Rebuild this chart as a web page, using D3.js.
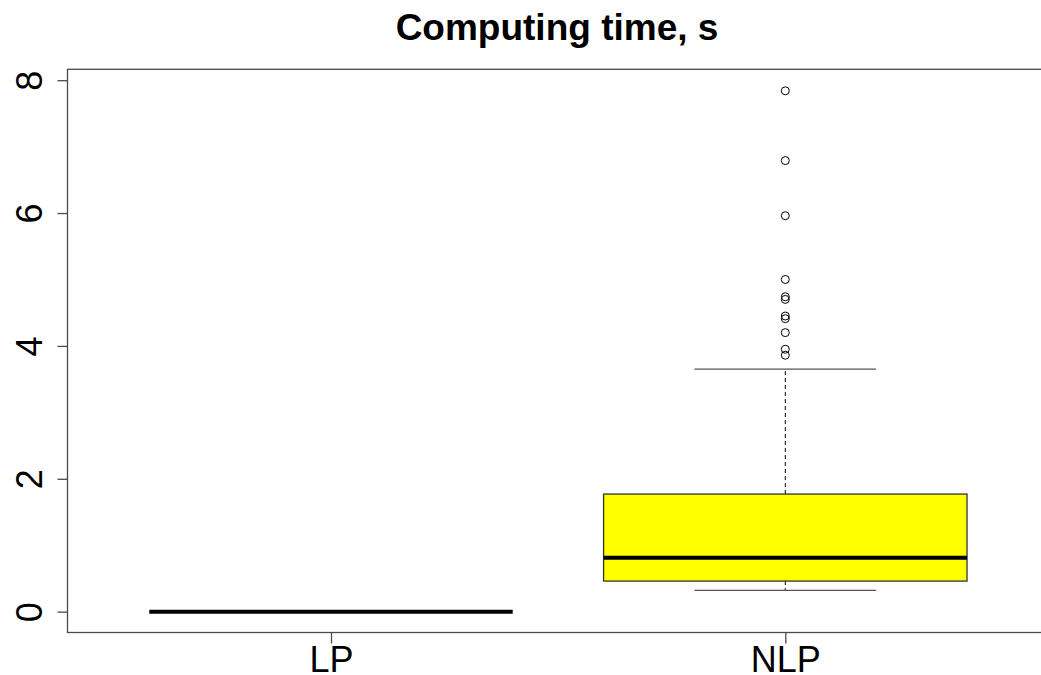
<!DOCTYPE html>
<html>
<head>
<meta charset="utf-8">
<script src="https://cdn.jsdelivr.net/npm/d3@7"></script>
<style>
  html, body { margin: 0; padding: 0; background: #fff; }
  svg { display: block; font-family: "Liberation Sans", Arial, sans-serif; }
</style>
</head>
<body>
<svg id="chart" width="1041" height="675"></svg>
<script>
// ---- data ----
const categories = ["LP", "NLP"];
const whiskerLow = [0, 0.32];
const q1 = [0, 0.46];
const median = [0, 0.81];
const q3 = [0, 1.77];
const whiskerHigh = [0, 3.65];
const outliersNLP = [3.86, 3.95, 4.20, 4.41, 4.45, 4.70, 4.74, 5.00, 5.96, 6.79, 7.84];
const yTicks = [0, 2, 4, 6, 8];
const title = "Computing time, s";

// ---- layout ----
const svg = d3.select("#chart");
const plotLeft = 67.5, plotRight = 1048.8, plotTop = 69.3, plotBottom = 632.5;

const x = d3.scaleLinear().domain([0.42, 2.58]).range([plotLeft, plotRight]);
const y = d3.scaleLinear().domain([-0.314, 8.164]).range([plotBottom, plotTop]);
const boxHalf = 0.4, capHalf = 0.2;
const axisColor = "#4a4a4a";

// title
svg.append("text")
  .attr("x", 557).attr("y", 39.5)
  .attr("text-anchor", "middle")
  .attr("font-size", 37).attr("font-weight", "bold")
  .attr("fill", "#000")
  .text(title);

// plot frame
svg.append("rect")
  .attr("x", plotLeft).attr("y", plotTop)
  .attr("width", plotRight - plotLeft).attr("height", plotBottom - plotTop)
  .attr("fill", "none").attr("stroke", axisColor).attr("stroke-width", 1.3);

// y axis
const yAxis = d3.axisLeft(y).tickValues(yTicks).tickSize(10).tickPadding(0).tickFormat(d3.format("d"));
const gy = svg.append("g").attr("transform", `translate(${plotLeft},0)`).call(yAxis);
gy.select(".domain").remove();
gy.selectAll(".tick line").attr("stroke", axisColor).attr("stroke-width", 1.3);
gy.selectAll(".tick text")
  .attr("x", null).attr("dy", null)
  .attr("transform", "translate(-25.5,0) rotate(-90)")
  .attr("text-anchor", "middle")
  .attr("font-size", 36)
  .attr("font-family", "Liberation Sans, Arial, sans-serif")
  .attr("fill", "#000");

// x axis
const xAxis = d3.axisBottom(x).tickValues([1, 2]).tickSize(11).tickPadding(0)
  .tickFormat((d) => categories[d - 1]);
const gx = svg.append("g").attr("transform", `translate(0,${plotBottom})`).call(xAxis);
gx.select(".domain").remove();
gx.selectAll(".tick line").attr("stroke", axisColor).attr("stroke-width", 1.3);
gx.selectAll(".tick text")
  .attr("y", 39.5).attr("dy", null)
  .attr("font-size", 36)
  .attr("font-family", "Liberation Sans, Arial, sans-serif")
  .attr("fill", "#000");

// boxes
categories.forEach((c, i) => {
  const pos = i + 1;
  const g = svg.append("g");
  const degenerate = q1[i] === q3[i] && whiskerLow[i] === whiskerHigh[i];
  if (!degenerate) {
    g.append("line")
      .attr("x1", x(pos)).attr("x2", x(pos))
      .attr("y1", y(q3[i])).attr("y2", y(whiskerHigh[i]))
      .attr("stroke", "#000").attr("stroke-width", 1).attr("stroke-dasharray", "4,3");
    g.append("line")
      .attr("x1", x(pos)).attr("x2", x(pos))
      .attr("y1", y(q1[i])).attr("y2", y(whiskerLow[i]))
      .attr("stroke", "#000").attr("stroke-width", 1).attr("stroke-dasharray", "4,3");
    [whiskerHigh[i], whiskerLow[i]].forEach((v) => {
      g.append("line")
        .attr("x1", x(pos - capHalf)).attr("x2", x(pos + capHalf))
        .attr("y1", y(v)).attr("y2", y(v))
        .attr("stroke", "#555").attr("stroke-width", 1.3);
    });
    g.append("rect")
      .attr("x", x(pos - boxHalf)).attr("y", y(q3[i]))
      .attr("width", x(pos + boxHalf) - x(pos - boxHalf))
      .attr("height", y(q1[i]) - y(q3[i]))
      .attr("fill", "#ffff00").attr("stroke", "#333").attr("stroke-width", 1.3);
  }
  g.append("line")
    .attr("x1", x(pos - boxHalf)).attr("x2", x(pos + boxHalf))
    .attr("y1", y(median[i])).attr("y2", y(median[i]))
    .attr("stroke", "#000").attr("stroke-width", 4);
});

// outliers
svg.append("g").selectAll("circle")
  .data(outliersNLP)
  .join("circle")
  .attr("cx", x(2)).attr("cy", (d) => y(d))
  .attr("r", 4)
  .attr("fill", "none").attr("stroke", "#000").attr("stroke-width", 1);
</script>
</body>
</html>
